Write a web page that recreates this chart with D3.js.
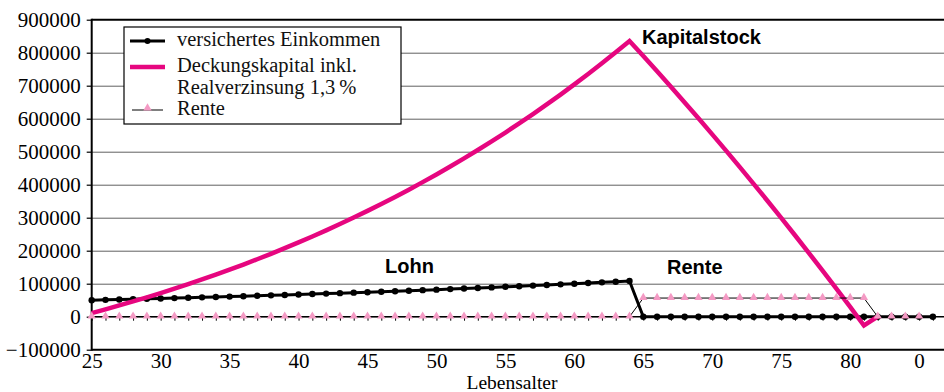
<!DOCTYPE html>
<html>
<head>
<meta charset="utf-8">
<script src="https://cdn.jsdelivr.net/npm/d3@7/dist/d3.min.js"></script>
<style>
  html, body { margin: 0; padding: 0; background: #fff; }
  svg { display: block; }
  .serif, .serif text { font-family: 'Liberation Serif', 'Times New Roman', 'DejaVu Serif', serif; }
  .bold { font-family: 'Liberation Sans', Arial, sans-serif; font-weight: bold; }
</style>
</head>
<body>
<svg id="chart" width="944" height="392"></svg>
<script>
// ---- data ----
const categories = ["25","26","27","28","29","30","31","32","33","34","35","36","37","38","39",
  "40","41","42","43","44","45","46","47","48","49","50","51","52","53","54","55","56","57","58","59",
  "60","61","62","63","64","65","66","67","68","69","70","71","72","73","74","75","76","77","78","79",
  "80","81","82","83","84","0","0","0"];

const einkommen = [50000,51000,52020,53060,54122,55204,56308,57434,58583,59755,
  60950,62169,63412,64680,65974,67293,68639,70012,71412,72841,
  74297,75783,77299,78845,80422,82030,83671,85344,87051,88792,
  90568,92379,94227,96112,98034,99994,101994,104034,106115,108237,
  0,0,0,0,0,0,0,0,0,0,0,0,0,0,0,0,0,0,0,0,0,0];

const deckungskapital = [11000,22363,34098,46214,58722,71630,84949,98688,112859,127472,
  142538,158068,174074,190567,207558,225060,243087,261650,280762,300437,
  320688,341529,362975,385040,407739,431087,455099,479791,505179,531280,
  558112,585690,614034,643161,673089,703838,735427,767875,801202,835430,
  789791,743558,696724,649281,601222,552538,503221,453263,402655,351390,
  299458,246851,193560,139576,84891,29495,-26622,0];

const rente = [0,0,0,0,0,0,0,0,0,0,0,0,0,0,0,0,0,0,0,0,
  0,0,0,0,0,0,0,0,0,0,0,0,0,0,0,0,0,0,0,0,
  56500,56500,56500,56500,56500,56500,56500,56500,56500,56500,
  56500,56500,56500,56500,56500,56500,56500,0,0,0,0];

const yTicks = [-100000,0,100000,200000,300000,400000,500000,600000,700000,800000,900000];
const gridValues = [100000,200000,300000,400000,500000,600000,700000,800000];
const labelEvery = 5;

const seriesNames = ["versichertes Einkommen", "Deckungskapital inkl.", "Realverzinsung 1,3\u2009%", "Rente"];
const annotations = [
  {text: "Kapitalstock", x: 642, y: 44},
  {text: "Lohn", x: 385, y: 273},
  {text: "Rente", x: 667, y: 274}
];

// ---- layout ----
const svg = d3.select("#chart");
const pLeft = 91.7, pTop = 19.7, pBottom = 349.7;
const step = 13.79;
const idx = d3.range(categories.length);
const W = 944;

const x = d3.scalePoint().domain(idx).range([pLeft, pLeft + step * (categories.length - 1)]);
const y = d3.scaleLinear().domain([-100000, 900000]).range([pBottom, pTop]);

const MAGENTA = "#e6067f";
const PINK = "#f49ac4";
const GRID = "#606060";

// gridlines
svg.append("g")
  .attr("transform", `translate(${pLeft},0)`)
  .call(d3.axisLeft(y).tickValues(gridValues).tickSize(-(W - pLeft)).tickFormat(""))
  .call(g => g.select(".domain").remove())
  .call(g => g.selectAll("line").attr("stroke", GRID).attr("stroke-width", 1));

// y axis with labels
svg.append("g")
  .attr("class", "serif")
  .attr("transform", `translate(${pLeft},0)`)
  .call(d3.axisLeft(y).tickValues(yTicks).tickSize(5).tickPadding(6).tickFormat(d3.format("d")))
  .attr("font-family", null)
  .call(g => g.select(".domain").remove())
  .call(g => g.selectAll("line").attr("stroke", "#000").attr("stroke-width", 1.2))
  .call(g => g.selectAll("text").attr("font-size", 21).attr("fill", "#000"));

// x labels at bottom
svg.append("g")
  .attr("class", "serif")
  .attr("transform", `translate(0,${pBottom})`)
  .call(d3.axisBottom(x).tickValues(idx.filter(i => i % labelEvery === 0)).tickSize(0).tickPadding(3)
      .tickFormat(i => categories[i]))
  .attr("font-family", null)
  .call(g => g.select(".domain").remove())
  .call(g => g.selectAll("text").attr("font-size", 21).attr("fill", "#000"));

// zero axis with category ticks
svg.append("g")
  .attr("transform", `translate(0,${y(0)})`)
  .call(d3.axisBottom(x).tickValues(idx).tickSize(4).tickFormat(""))
  .call(g => g.select(".domain").attr("d", `M${pLeft},0H${W}`).attr("stroke", "#000").attr("stroke-width", 1.5))
  .call(g => g.selectAll(".tick line").attr("stroke", "#000").attr("stroke-width", 1));

// plot borders
svg.append("line").attr("x1", pLeft).attr("x2", W).attr("y1", pTop).attr("y2", pTop)
  .attr("stroke", "#000").attr("stroke-width", 2);
svg.append("line").attr("x1", pLeft).attr("x2", W).attr("y1", pBottom).attr("y2", pBottom)
  .attr("stroke", "#000").attr("stroke-width", 2);
svg.append("line").attr("x1", pLeft).attr("x2", pLeft).attr("y1", pTop - 1).attr("y2", pBottom + 1)
  .attr("stroke", "#000").attr("stroke-width", 2);

// x axis title
svg.append("text").attr("class", "serif").attr("x", 512).attr("y", 389).attr("text-anchor", "middle")
  .attr("font-size", 19.5)
  .text("Lebensalter");

const line = d3.line().defined(d => d != null).x((d, i) => x(i)).y(d => y(d));

// versichertes Einkommen
svg.append("path").datum(einkommen).attr("d", line)
  .attr("fill", "none").attr("stroke", "#000").attr("stroke-width", 3);
svg.append("g").selectAll("circle").data(einkommen).join("circle")
  .attr("cx", (d, i) => x(i)).attr("cy", d => y(d)).attr("r", 3.2).attr("fill", "#000");

// Deckungskapital
svg.append("path").datum(deckungskapital).attr("d", line)
  .attr("fill", "none").attr("stroke", MAGENTA).attr("stroke-width", 4.5)
  .attr("stroke-linejoin", "miter");

// Rente
svg.append("path").datum(rente).attr("d", line)
  .attr("fill", "none").attr("stroke", "#000").attr("stroke-width", 1);
const tri = d3.symbol().type(d3.symbolTriangle).size(30);
svg.append("g").selectAll("path").data(rente).join("path")
  .attr("d", tri).attr("transform", (d, i) => `translate(${x(i)},${y(d) - 0.5})`)
  .attr("fill", PINK);

// annotations
svg.append("g").selectAll("text").data(annotations).join("text")
  .attr("class", "bold")
  .attr("x", d => d.x).attr("y", d => d.y)
  .attr("font-size", 20).attr("fill", "#000").text(d => d.text);

// legend
const lg = svg.append("g");
lg.append("rect").attr("x", 124).attr("y", 27).attr("width", 277).attr("height", 97)
  .attr("fill", "#fff").attr("stroke", "#000").attr("stroke-width", 1.2);
lg.append("line").attr("x1", 130).attr("x2", 165).attr("y1", 41).attr("y2", 41)
  .attr("stroke", "#000").attr("stroke-width", 3);
lg.append("circle").attr("cx", 147.5).attr("cy", 41).attr("r", 3).attr("fill", "#000");
lg.append("line").attr("x1", 130).attr("x2", 165).attr("y1", 67).attr("y2", 67)
  .attr("stroke", MAGENTA).attr("stroke-width", 4.5);
lg.append("line").attr("x1", 132).attr("x2", 163).attr("y1", 110).attr("y2", 110)
  .attr("stroke", "#000").attr("stroke-width", 1);
lg.append("path").attr("d", tri).attr("transform", "translate(147.5,108)").attr("fill", PINK);
const legendY = [46, 72, 94, 115];
lg.selectAll("text.lt").data(seriesNames).join("text").attr("class", "lt serif")
  .attr("x", 177).attr("y", (d, i) => legendY[i])
  .attr("font-size", 20.5)
  .attr("fill", "#111").text(d => d);
</script>
</body>
</html>
